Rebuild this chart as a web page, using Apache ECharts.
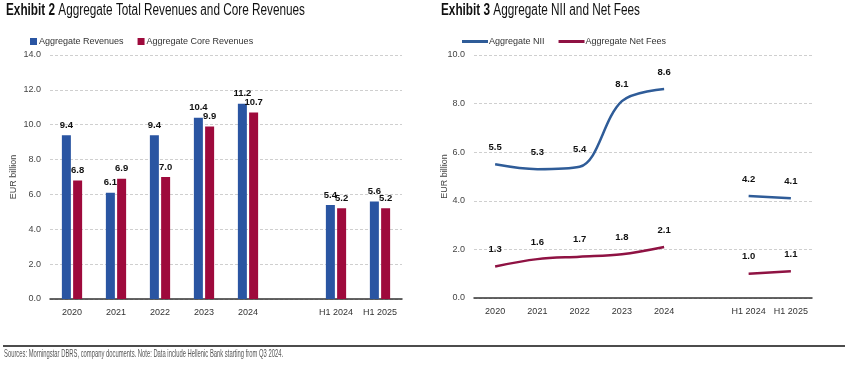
<!DOCTYPE html>
<html><head><meta charset="utf-8">
<script src="https://cdn.jsdelivr.net/npm/echarts@6/dist/echarts.min.js"></script>
<style>html,body{margin:0;padding:0;background:#fff}#c{width:848px;height:371px}</style>
</head><body><div id="c"></div>
<script>
const categories = ['2020','2021','2022','2023','2024','','H1 2024','H1 2025'];
const aggRevenues = [9.4, 6.1, 9.4, 10.4, 11.2, null, 5.4, 5.6];
const aggCoreRevenues = [6.8, 6.9, 7.0, 9.9, 10.7, null, 5.2, 5.2];
const aggNII = [5.5, 5.3, 5.4, 8.1, 8.6, null, 4.2, 4.1];
const aggNetFees = [1.3, 1.6, 1.7, 1.8, 2.1, null, 1.0, 1.1];
const leftTicks = [0, 14, 2];
const rightTicks = [0, 10, 2];
const title2 = ['Exhibit 2', 'Aggregate Total Revenues and Core Revenues'];
const title3 = ['Exhibit 3', 'Aggregate NII and Net Fees'];
const footnote = 'Sources: Morningstar DBRS, company documents. Note: Data include Hellenic Bank starting from Q3 2024.';

const ctx = document.createElement('canvas').getContext('2d');
const FONT = '"Liberation Sans", sans-serif';
function tw(font, s){ ctx.font = font; return ctx.measureText(s).width; }
const sm = 9;

const BLUE = '#2A55A2', RED = '#9E0A3C', LBLUE = '#2F5C98', LRED = '#8F1243';
const chart = echarts.init(document.getElementById('c'), null, {renderer:'canvas'});
const lbl = {show:true, position:'top', fontFamily:FONT, fontWeight:'bold', fontSize:9.5, color:'#111', formatter: p => p.value == null ? '' : p.value.toFixed(1)};
function yAx(gi, t, gap){
  return {type:'value', gridIndex:gi, min:t[0], max:t[1], interval:t[2],
    name:'EUR billion', nameLocation:'middle', nameGap:gap, nameRotate:90, nameMoveOverlap:false,
    nameTextStyle:{fontFamily:FONT, fontSize:sm, color:'#444'},
    axisLabel:{fontFamily:FONT, fontSize:sm, color:'#444', formatter:v=>v.toFixed(1), margin:9},
    axisLine:{show:false}, axisTick:{show:false},
    splitLine:{lineStyle:{color:'#cfcfcf', type:[3,2], width:1}}};
}
function xAx(gi){
  return {type:'category', gridIndex:gi, data:categories, boundaryGap:true,
    axisLabel:{fontFamily:FONT, fontSize:sm, color:'#333', margin:9, interval:0},
    axisTick:{show:false}, axisLine:{lineStyle:{color:'#333', width:1.5}}};
}
function titleGraphic(parts, x, targetW){
  const fb = 'bold 16px ' + FONT, fn = '16px ' + FONT;
  const w1 = tw(fb, parts[0]), w2 = tw(fn, ' ' + parts[1]);
  const s = targetW / (w1 + w2);
  return {type:'group', x:x, y:3, scaleX:s, children:[
    {type:'text', x:0, y:0, style:{text:parts[0], font:fb, fill:'#111', textVerticalAlign:'top'}},
    {type:'text', x:w1, y:0, style:{text:' ' + parts[1], font:fn, fill:'#111', textVerticalAlign:'top'}}
  ]};
}
const fnFont = '10.5px ' + FONT;
chart.setOption({
  animation:false,
  graphic:[
    titleGraphic(title2, 6, 299),
    titleGraphic(title3, 441, 199),
    {type:'line', shape:{x1:3, y1:346, x2:845, y2:346}, style:{stroke:'#111', lineWidth:1.5}},
    {type:'text', x:4, y:349, scaleX: 279 / tw(fnFont, footnote), style:{text:footnote, font:fnFont, fill:'#555', textVerticalAlign:'top'}}
  ],
  legend:[
    {data:['Aggregate Revenues','Aggregate Core Revenues'], left:25, top:32, itemWidth:7, itemHeight:7, itemGap:14,
     textStyle:{fontFamily:FONT, fontSize:sm, color:'#333', padding:[0,0,0,-3]}, icon:'rect'},
    {data:['Aggregate NII','Aggregate Net Fees'], left:457, top:32, itemWidth:26, itemHeight:3, itemGap:14,
     textStyle:{fontFamily:FONT, fontSize:sm, color:'#333', padding:[0,0,0,-4]}, icon:'rect'}
  ],
  grid:[
    {left:50, right:446, top:55, bottom:72},
    {left:474, right:36, top:55, bottom:73}
  ],
  xAxis:[xAx(0), xAx(1)],
  yAxis:[yAx(0, leftTicks, 32), yAx(1, rightTicks, 25)],
  series:[
    {name:'Aggregate Revenues', type:'bar', xAxisIndex:0, yAxisIndex:0, data:aggRevenues, barWidth:9, barGap:'25%', itemStyle:{color:BLUE}, label:lbl},
    {name:'Aggregate Core Revenues', type:'bar', xAxisIndex:0, yAxisIndex:0, data:aggCoreRevenues, barWidth:9, itemStyle:{color:RED}, label:lbl},
    {name:'Aggregate NII', type:'line', xAxisIndex:1, yAxisIndex:1, data:aggNII, smooth:0.35, connectNulls:false, showSymbol:true, symbol:'circle', symbolSize:0.01,
     lineStyle:{color:LBLUE, width:2.5}, itemStyle:{color:LBLUE}, label:Object.assign({}, lbl, {distance:12})},
    {name:'Aggregate Net Fees', type:'line', xAxisIndex:1, yAxisIndex:1, data:aggNetFees, smooth:0.35, connectNulls:false, showSymbol:true, symbol:'circle', symbolSize:0.01,
     lineStyle:{color:LRED, width:2.5}, itemStyle:{color:LRED}, label:Object.assign({}, lbl, {distance:12})}
  ]
});
</script></body></html>
